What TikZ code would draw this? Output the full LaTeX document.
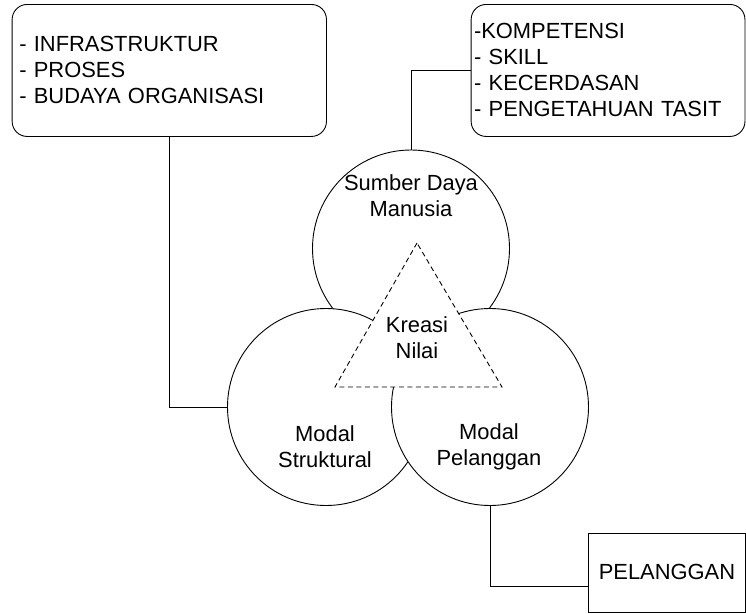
\documentclass[tikz,border=0pt]{standalone}
\usepackage{fontspec}
\setmainfont{Liberation Sans}
\begin{document}
\begin{tikzpicture}[x=1pt,y=-1pt,
  every node/.style={font=\fontsize{21.9}{26}\selectfont},
  line/.style={draw=black,line width=0.9pt},
  rbox/.style={line,rounded corners=15pt,align=left,anchor=north west,inner sep=0pt},
  circ/.style={line,circle,fill=white,minimum size=197pt,inner sep=0pt},
  lbl/.style={align=center,inner sep=0pt}]
\useasboundingbox (0,0) rectangle (746,613);
% boxes
\node[rbox,minimum width=314.3pt,minimum height=132pt,text width=300pt,inner xsep=6.5pt] (tl) at (11.7,4)
  {- INFRASTRUKTUR\\- PROSES\\- BUDAYA ORGANISASI};
\node[rbox,minimum width=273.8pt,minimum height=132pt,text width=268pt,inner xsep=1.5pt] (tr) at (470.7,4)
  {-KOMPETENSI\\- SKILL\\- KECERDASAN\\- PENGETAHUAN TASIT};
\node[line,minimum width=157pt,minimum height=79pt,inner sep=0pt,anchor=north west] (pel) at (588,532.5) {PELANGGAN};
% circles
\node[circ] (sdm) at (411,248.5) {};
\node[circ] (ms) at (326,407) {};
\node[circ] (mp) at (490,407) {};
% triangle
\draw[line,fill=white,dash pattern=on 5pt off 3.5pt] (417,243) -- (335,387) -- (502,387) -- cycle;
% labels
\node[lbl] (lsdm) at (411,196) {Sumber Daya\\Manusia};
\node[lbl] (lkn) at (417,338) {Kreasi\\Nilai};
\node[lbl] (lms) at (325,447) {Modal\\Struktural};
\node[lbl] (lmp) at (489,447) {Modal\\Pelanggan};
% connectors
\draw[line] (tl.south) |- (ms.west);
\draw[line] (tr.west) -| (sdm.north);
\draw[line] (mp.south) |- ([yshift=-14pt]pel.west);
\end{tikzpicture}
\end{document}
